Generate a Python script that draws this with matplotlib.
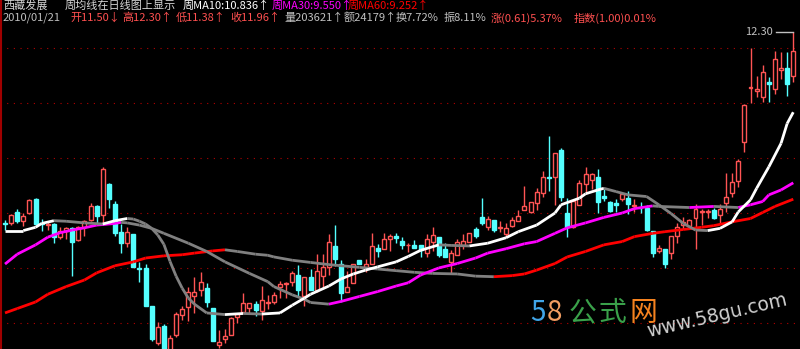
import numpy as np
import matplotlib.pyplot as plt
from matplotlib.collections import LineCollection

# 日线数据 (开 高 低 收), 从左到右
opens = [8.82, 8.81, 9.01, 8.86, 9.00, 9.26, 8.82, 8.78, 8.80, 8.56,
         8.68, 8.73, 8.50, 8.74, 8.87, 9.13, 8.96, 9.53, 9.16, 8.65,
         8.46, 8.62, 8.00, 8.00, 7.31, 6.63, 6.94, 6.45, 6.77, 7.15,
         7.28, 7.49, 7.60, 7.63, 7.27, 6.59, 6.71, 6.78, 7.11, 7.20,
         7.27, 7.34, 7.22, 7.36, 7.37, 7.66, 7.70, 7.75, 7.87, 7.48,
         7.83, 7.59, 7.86, 8.02, 8.40, 8.08, 7.57, 7.72, 8.14, 8.02,
         8.08, 8.37, 8.34, 8.53, 8.59, 8.49, 8.41, 8.42, 8.41, 8.28,
         8.48, 8.56, 8.34, 8.11, 8.24, 8.41, 8.47, 8.71, 8.93, 8.74,
         8.87, 8.73, 8.62, 8.76, 8.86, 9.06, 9.01, 9.19, 9.36, 9.66,
         9.66, 10.14, 9.00, 8.74, 9.15, 9.53, 9.61, 9.65, 9.31, 9.20,
         9.18, 9.26, 9.27, 9.12, 9.10, 9.10, 8.67, 8.30, 8.34, 8.27,
         8.58, 8.78, 8.77, 8.91, 9.02, 9.01, 9.06, 8.97, 9.18, 9.36,
         9.58, 10.30, 11.28, 11.22, 11.12, 11.39, 11.25, 11.61, 11.65, 11.50]
highs = [8.87, 8.98, 9.07, 9.00, 9.25, 9.27, 8.89, 8.84, 8.81, 8.74,
         8.74, 8.74, 8.76, 8.87, 9.19, 9.15, 9.84, 9.55, 9.21, 8.80,
         8.74, 8.62, 8.11, 8.07, 7.31, 7.02, 6.98, 6.77, 7.20, 7.31,
         7.65, 7.83, 7.92, 7.72, 7.27, 6.87, 6.88, 7.10, 7.18, 7.54,
         7.36, 7.39, 7.67, 7.51, 7.56, 7.77, 7.74, 7.94, 8.05, 7.83,
         7.98, 8.25, 8.25, 8.62, 8.78, 8.14, 7.94, 8.07, 8.14, 8.16,
         8.64, 8.44, 8.64, 8.62, 8.64, 8.56, 8.46, 8.51, 8.42, 8.61,
         8.75, 8.56, 8.45, 8.33, 8.52, 8.61, 8.64, 8.75, 9.27, 8.95,
         8.87, 8.85, 8.81, 8.92, 9.06, 9.49, 9.20, 9.46, 9.77, 10.40,
         10.10, 10.18, 9.27, 9.24, 9.60, 9.84, 9.73, 9.81, 9.43, 9.22,
         9.25, 9.37, 9.40, 9.26, 9.20, 9.15, 8.67, 8.41, 8.35, 8.58,
         8.82, 8.92, 8.89, 9.16, 9.08, 9.08, 9.09, 9.16, 9.73, 9.72,
         9.98, 10.99, 12.00, 11.50, 11.70, 11.47, 11.96, 11.94, 11.93, 12.30]
lows = [8.69, 8.78, 8.81, 8.76, 8.98, 8.78, 8.68, 8.69, 8.46, 8.52,
        8.52, 7.86, 8.49, 8.58, 8.85, 8.80, 8.82, 9.09, 8.58, 8.28,
        8.39, 8.01, 7.75, 7.31, 6.66, 6.60, 6.38, 6.42, 6.74, 7.05,
        7.04, 7.18, 7.48, 7.29, 6.66, 6.54, 6.63, 6.77, 7.00, 7.17,
        7.17, 7.13, 7.05, 7.25, 7.34, 7.46, 7.46, 7.67, 7.49, 7.31,
        7.59, 7.57, 7.63, 7.87, 8.04, 7.37, 7.56, 7.72, 8.08, 7.93,
        8.07, 8.20, 8.34, 8.30, 8.45, 8.35, 8.29, 8.36, 8.20, 8.19,
        8.30, 8.20, 8.19, 7.90, 8.24, 8.34, 8.47, 8.55, 8.79, 8.69,
        8.66, 8.66, 8.57, 8.75, 8.86, 9.06, 9.00, 9.06, 9.30, 9.41,
        9.15, 9.21, 8.56, 8.73, 9.14, 9.36, 9.43, 9.00, 9.21, 9.02,
        9.02, 9.21, 8.98, 9.02, 9.00, 8.68, 8.19, 8.27, 8.00, 8.16,
        8.46, 8.71, 8.75, 8.35, 8.79, 8.91, 8.89, 8.81, 9.02, 9.30,
        9.47, 10.11, 11.01, 11.11, 11.03, 11.02, 11.17, 11.45, 11.14, 11.38]
closes = [8.80, 8.97, 8.86, 8.95, 9.24, 8.80, 8.80, 8.80, 8.56, 8.68,
          8.73, 8.48, 8.74, 8.86, 9.13, 8.95, 9.80, 9.25, 8.64, 8.46,
          8.65, 8.02, 7.98, 7.31, 6.70, 6.92, 6.42, 6.72, 7.16, 7.26,
          7.56, 7.56, 7.74, 7.37, 6.66, 6.65, 6.76, 7.09, 7.16, 7.36,
          7.36, 7.23, 7.42, 7.38, 7.51, 7.70, 7.73, 7.91, 7.60, 7.83,
          7.60, 7.94, 8.02, 8.47, 8.17, 7.55, 7.65, 8.07, 8.08, 8.07,
          8.40, 8.30, 8.53, 8.58, 8.55, 8.41, 8.42, 8.37, 8.32, 8.52,
          8.60, 8.24, 8.20, 8.28, 8.47, 8.49, 8.63, 8.59, 8.82, 8.90,
          8.69, 8.75, 8.73, 8.87, 8.95, 9.13, 9.20, 9.38, 9.65, 9.64,
          10.09, 9.30, 8.74, 9.21, 9.54, 9.71, 9.71, 9.20, 9.28, 9.04,
          9.14, 9.35, 9.16, 9.15, 9.09, 8.69, 8.27, 8.36, 8.07, 8.58,
          8.74, 8.84, 8.87, 9.08, 9.03, 9.04, 8.91, 9.08, 9.29, 9.57,
          9.95, 10.96, 11.30, 11.26, 11.56, 11.35, 11.80, 11.65, 11.35, 11.96]

# 周均线 (日序号, 数值)
ma10_days = [0, 3, 5, 6, 8, 10, 13, 16, 18, 20, 21, 22, 23, 24, 25, 26, 27, 28, 29, 30,
             31, 33, 36, 39, 42, 45, 47, 49, 50, 53, 55, 57, 59, 61, 64, 66, 68, 71, 73, 76,
             79, 82, 84, 87, 90, 91, 94, 95, 97, 98, 100, 102, 105, 107, 109, 111, 113, 115, 117, 119,
             120, 122, 123, 125, 127, 128, 129]
ma10_vals = [8.68, 8.68, 8.74, 8.81, 8.86, 8.85, 8.82, 8.80, 8.86, 8.90, 8.89, 8.85, 8.80, 8.72, 8.60, 8.43, 8.12, 7.85, 7.63, 7.45,
             7.34, 7.18, 7.15, 7.17, 7.16, 7.18, 7.32, 7.45, 7.52, 7.67, 7.80, 7.89, 7.96, 8.02, 8.11, 8.21, 8.32, 8.42, 8.41, 8.40,
             8.45, 8.55, 8.66, 8.78, 9.00, 9.15, 9.27, 9.35, 9.42, 9.45, 9.39, 9.33, 9.30, 9.15, 8.99, 8.81, 8.69, 8.68, 8.72, 8.84,
             9.02, 9.24, 9.45, 9.84, 10.27, 10.63, 10.836]
ma30_days = [0, 2, 5, 7, 9, 11, 13, 15, 18, 19, 20, 22, 24, 26, 30, 33, 36, 40, 43, 44,
             47, 49, 50, 53, 55, 58, 61, 64, 66, 68, 71, 74, 77, 79, 82, 85, 87, 90, 92, 95,
             98, 101, 103, 106, 107, 112, 116, 120, 122, 124, 125, 127, 129]
ma30_vals = [8.07, 8.25, 8.42, 8.56, 8.64, 8.69, 8.73, 8.78, 8.81, 8.83, 8.82, 8.78, 8.72, 8.63, 8.45, 8.30, 8.11, 7.90, 7.75, 7.66,
             7.51, 7.43, 7.37, 7.34, 7.39, 7.48, 7.57, 7.67, 7.73, 7.87, 8.00, 8.08, 8.18, 8.27, 8.35, 8.44, 8.48, 8.63, 8.73, 8.82,
             8.92, 9.00, 9.08, 9.13, 9.12, 9.10, 9.12, 9.10, 9.15, 9.21, 9.33, 9.42, 9.55]
ma60_days = [0, 2, 5, 7, 10, 13, 15, 18, 21, 23, 26, 29, 31, 34, 36, 38, 41, 43, 44, 47,
             50, 53, 55, 58, 61, 64, 67, 70, 74, 77, 80, 83, 85, 87, 90, 92, 95, 98, 101, 103,
             106, 108, 111, 114, 116, 119, 122, 124, 126, 129]
ma60_vals = [7.18, 7.26, 7.38, 7.52, 7.66, 7.78, 7.91, 8.04, 8.11, 8.18, 8.22, 8.24, 8.27, 8.31, 8.33, 8.30, 8.25, 8.23, 8.20, 8.14,
             8.10, 8.06, 8.04, 8.01, 7.98, 7.95, 7.92, 7.90, 7.89, 7.85, 7.84, 7.86, 7.89, 7.96, 8.08, 8.20, 8.30, 8.42, 8.48, 8.57,
             8.63, 8.66, 8.70, 8.74, 8.77, 8.84, 8.90, 9.01, 9.12, 9.252]

grid_levels = [7, 8, 9, 10, 11, 12]

UP = '#ff5454'
DOWN = '#54ffff'
GRAY = '#808080'
FONT = ['Noto Sans CJK SC', 'DejaVu Sans']

fig = plt.figure(figsize=(8, 3.49), dpi=100, facecolor='black')
ax = fig.add_axes([0, 0, 1, 1])
ax.set_facecolor('black')
ax.set_xlim(-0.82, 130.1)
ax.set_ylim(6.523, 12.880)
ax.axis('off')

# 网格线 + 左边框
for lv in grid_levels:
    ax.axhline(lv, color='#b40000', lw=0.8, ls=(0, (1, 5)), zorder=0)
ax.plot([0.0015, 0.0015], [0, 1], transform=ax.transAxes, color='#a00000', lw=1.5)

# K线
x = np.arange(len(closes))
o, h, l, c = (np.array(v) for v in (opens, highs, lows, closes))
up = c >= o
top = np.maximum(o, c)
bot = np.minimum(o, c)
cols = np.where(up, UP, DOWN)
ax.vlines(x, top, h, colors=cols, lw=1, zorder=1)
ax.vlines(x, l, bot, colors=cols, lw=1, zorder=1)
ax.bar(x[up], (c - o)[up], bottom=o[up], width=0.65,
       facecolor='black', edgecolor=UP, lw=1, zorder=2)
ax.bar(x[~up], (o - c)[~up], bottom=c[~up], width=0.65,
       facecolor=DOWN, edgecolor=DOWN, lw=1, zorder=2)


def draw_ma(days, vals, color):
    pts = np.column_stack([days, vals])
    segs = np.stack([pts[:-1], pts[1:]], axis=1)
    seg_cols = [color if b >= a else GRAY for a, b in zip(vals[:-1], vals[1:])]
    ax.add_collection(LineCollection(segs, colors=seg_cols, linewidths=2,
                                     capstyle='butt', zorder=3))


draw_ma(ma60_days, ma60_vals, '#ff0000')
draw_ma(ma30_days, ma30_vals, '#ff00ff')
draw_ma(ma10_days, ma10_vals, '#ffffff')

# 最高价标注
hi_idx = int(np.argmax(highs))
hi = highs[hi_idx]
ax.plot([hi_idx - 2.8, hi_idx], [hi, hi], color='#c0c0c0', lw=1, zorder=4)
ax.text(hi_idx - 3.4, hi, f'{hi:.2f}', ha='right', va='center',
        color='#c0c0c0', fontsize=8, family=FONT)


def label(px, py, s, color, size=8):
    ax.text(px / 800, 1 - py / 349, s, color=color, fontsize=size, family=FONT,
            transform=ax.transAxes, ha='left', va='center', zorder=5)


RED_TXT = '#ff5050'
GRAY_TXT = '#c0c0c0'
label(3, 6, '西藏发展', '#d8d8d8')
label(65, 6, '周均线在日线图上显示', '#d8d8d8')
label(183, 6, '周MA10:10.836↑', '#ffffff')
label(272, 6, '周MA30:9.550↑', '#ff00ff')
label(348, 6, '周MA60:9.252↑', '#ff0000')

label(3, 18, '2010/01/21', GRAY_TXT)
label(70, 18, '开11.50↓', RED_TXT)
label(122, 18, '高12.30↑', RED_TXT)
label(176, 18, '低11.38↑', RED_TXT)
label(230, 18, '收11.96↑', RED_TXT)
label(284, 18, '量203621↑', GRAY_TXT)
label(344, 18, '额24179↑', GRAY_TXT)
label(396, 18, '换7.72%', GRAY_TXT)
label(444, 18, '振8.11%', GRAY_TXT)
label(491, 18, '涨(0.61)5.37%', RED_TXT)
label(574, 18, '指数(1.00)0.01%', RED_TXT)

# 水印
for px, ch, col in [(530, '5', '#41a5e8'), (547, '8', '#f29d62'),
                    (569, '公', '#3aa14a'), (599, '式', '#3aa14a'),
                    (630, '网', '#f5821f')]:
    label(px, 313, ch, col, size=20)
ax.text(717 / 800, 1 - 316 / 349, 'www.58gu.com', color='#d0d0d0', fontsize=13.5,
        rotation=13, ha='center', va='center', transform=ax.transAxes, zorder=5)

fig.savefig('out.png', dpi=100, facecolor='black')
